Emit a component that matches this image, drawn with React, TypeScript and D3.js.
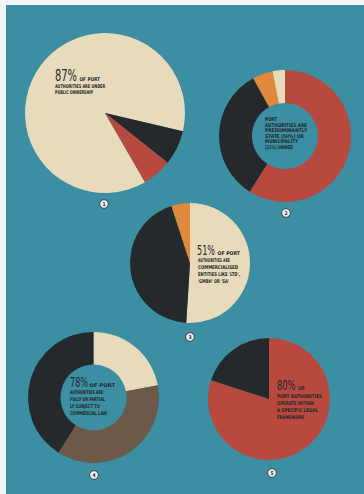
import React, { useLayoutEffect, useRef, useState } from "react";
import * as d3 from "d3";

// ---------- data ----------
const chart1Categories = ["Public ownership", "Mixed", "Private"];
const chart1Values = [87, 7, 6];

const chart2Categories = ["State", "Municipality", "Mixed", "Private"];
const chart2Values = [59, 33, 5, 3];

const chart3Categories = ["Commercialised entities", "Other public bodies", "Other"];
const chart3Values = [51, 44, 5];

const chart4Categories = ["Not subject", "Partially subject", "Fully subject"];
const chart4Values = [22, 37, 41];

const chart5Categories = ["Specific legal framework", "General framework"];
const chart5Values = [80, 20];

const chart1Text = ["AUTHORITIES ARE UNDER", "PUBLIC OWNERSHIP"];
const chart2Text = ["PORT", "AUTHORITIES ARE", "PREDOMINANTLY", "STATE (50%) OR", "MUNICIPALITY", "(22%) OWNED"];
const chart3Text = ["AUTHORITIES ARE", "COMMERCIALISED", "ENTITIES LIKE 'LTD',", "'GMBH' OR 'SA'"];
const chart4Text = ["AUTHORITIES ARE", "FULLY OR PARTIAL", "LY SUBJECT TO", "COMMERCIAL LAW"];
const chart5Text = ["PORT AUTHORITIES", "OPERATE WITHIN", "A SPECIFIC LEGAL", "FRAMEWORK"];

const badgeLabels = ["1", "2", "3", "4", "5"];

// ---------- style ----------
const C = {
  bg: "#3c8fa3",
  cream: "#e8dbbb",
  dark: "#25292b",
  red: "#b8493f",
  orange: "#e0893a",
  brown: "#6c5949",
  ink: "#23272a",
};

const deg = (d: number) => (d * Math.PI) / 180;

type Cfg = {
  cats: string[];
  values: number[];
  colors: string[];
  cx: number;
  cy: number;
  r: number;
  inner: number;
  start: number;
  big?: { text: string; x: number; y: number; len: number; size: number; tail: string; tailX: number; tailLen: number };
  lines: string[];
  lx: number;
  ly: number[];
  lLen: number[];
  badge: [number, number];
};

const charts: Cfg[] = [
  {
    cats: chart1Categories, values: chart1Values, colors: [C.cream, C.dark, C.red],
    cx: 105, cy: 113, r: 80, inner: 0, start: 150,
    big: { text: "87%", x: 55, y: 81, len: 22, size: 15, tail: "OF PORT", tailX: 79.5, tailLen: 20.5 },
    lines: chart1Text, lx: 55, ly: [87.5, 93.5], lLen: [50, 38], badge: [104, 204],
  },
  {
    cats: chart2Categories, values: chart2Values, colors: [C.red, C.dark, C.orange, C.cream],
    cx: 285, cy: 136, r: 66, inner: 33, start: 0,
    lines: chart2Text, lx: 265, ly: [121, 127, 132, 137.5, 143, 148.5], lLen: [12, 42, 42, 39, 33, 28], badge: [286, 213],
  },
  {
    cats: chart3Categories, values: chart3Values, colors: [C.cream, C.dark, C.orange],
    cx: 190, cy: 263, r: 60, inner: 0, start: 0,
    big: { text: "51%", x: 197, y: 254.5, len: 18, size: 14, tail: "OF PORT", tailX: 217.5, tailLen: 22.5 },
    lines: chart3Text, lx: 198, ly: [261.5, 268.5, 275.5, 282.5], lLen: [32, 40, 42, 31], badge: [190, 337],
  },
  {
    cats: chart4Categories, values: chart4Values, colors: [C.cream, C.brown, C.dark],
    cx: 93.5, cy: 397.5, r: 65.5, inner: 33, start: 0,
    big: { text: "78%", x: 70, y: 387, len: 18, size: 14, tail: "OF PORT", tailX: 89.5, tailLen: 25.5 },
    lines: chart4Text, lx: 70, ly: [394, 401, 408, 414.5], lLen: [33, 35, 30, 37], badge: [94, 475],
  },
  {
    cats: chart5Categories, values: chart5Values, colors: [C.red, C.dark],
    cx: 269, cy: 399, r: 61, inner: 0, start: 0,
    big: { text: "80%", x: 277, y: 390, len: 18.5, size: 14, tail: "OF", tailX: 298, tailLen: 7 },
    lines: chart5Text, lx: 277, ly: [397.5, 404.5, 411.5, 418.5], lLen: [45, 37, 41, 27], badge: [272, 473],
  },
];

const smallFont = "'DejaVu Sans Condensed', 'Liberation Sans Narrow', 'Roboto', sans-serif";
const bigFont = "'Liberation Sans Narrow', 'DejaVu Sans Condensed', 'Roboto', sans-serif";

// Text squeezed horizontally to an exact width with a real transform
function FitText({ x, y, width, size, text, family, weight }: {
  x: number; y: number; width: number; size: number; text: string; family: string; weight: string;
}) {
  const ref = useRef<SVGTextElement>(null);
  const [sx, setSx] = useState(width / (size * 0.55 * text.length));
  useLayoutEffect(() => {
    if (ref.current) {
      const w = ref.current.getComputedTextLength();
      if (w > 0) setSx(width / w);
    }
  }, [width, size, text]);
  return (
    <text ref={ref} transform={`translate(${x},${y}) scale(${sx},1)`} fontSize={size}
      fontFamily={family} fontWeight={weight} fill={C.ink}>{text}</text>
  );
}

function Chart({ cfg, idx }: { cfg: Cfg; idx: number }) {
  const pie = d3
    .pie<number>()
    .sort(null)
    .value((d) => d)
    .startAngle(deg(cfg.start))
    .endAngle(deg(cfg.start) + Math.PI * 2);
  const arc = d3.arc<d3.PieArcDatum<number>>().innerRadius(cfg.inner).outerRadius(cfg.r);
  const arcs = pie(cfg.values);
  return (
    <g>
      <g transform={`translate(${cfg.cx},${cfg.cy})`}>
        {arcs.map((a, i) => (
          <path key={i} d={arc(a) || ""} fill={cfg.colors[i]}>
            <title>{`${cfg.cats[i]}: ${cfg.values[i]}%`}</title>
          </path>
        ))}
      </g>
      {cfg.big && (
        <FitText x={cfg.big.x} y={cfg.big.y} width={cfg.big.len} size={cfg.big.size}
          text={cfg.big.text} family={bigFont} weight="normal" />
      )}
      {cfg.big && (
        <FitText x={cfg.big.tailX} y={cfg.big.y} width={cfg.big.tailLen} size={5.2}
          text={cfg.big.tail} family={smallFont} weight="bold" />
      )}
      {cfg.lines.map((l, i) => (
        <FitText key={i} x={cfg.lx} y={cfg.ly[i]} width={cfg.lLen[i]} size={5.2}
          text={l} family={smallFont} weight="bold" />
      ))}
      <g transform={`translate(${cfg.badge[0]},${cfg.badge[1]})`}>
        <circle r={4.3} fill="#eef2f2" stroke="#2a3a40" strokeWidth={0.9} />
        <text y={1.8} textAnchor="middle" fontSize={5} fontWeight="bold" fontFamily={smallFont} fill={C.ink}>
          {badgeLabels[idx]}
        </text>
      </g>
    </g>
  );
}

export default function App() {
  return (
    <svg width={364} height={494} style={{ position: "absolute", left: 0, top: 0, display: "block" }}>
      <rect x={0} y={0} width={364} height={494} fill="#f4f6f6" />
      <rect x={6} y={5} width={358} height={489} fill={C.bg} />
      {charts.map((c, i) => (
        <Chart key={i} cfg={c} idx={i} />
      ))}
    </svg>
  );
}
